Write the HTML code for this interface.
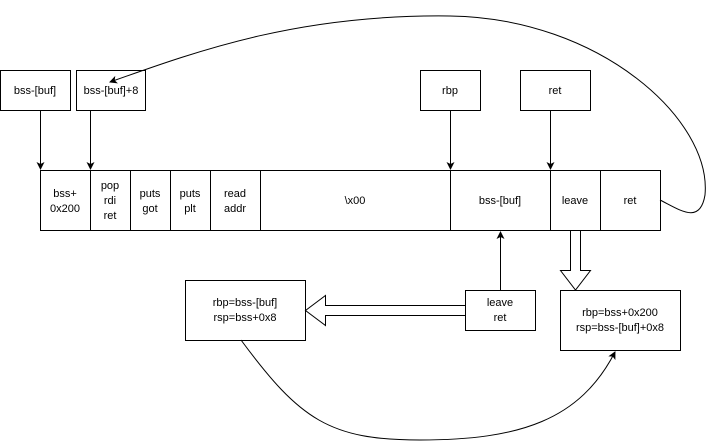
<!DOCTYPE html>
<html><head><style>body{margin:0;background:#fff}</style></head><body>
<svg width="710" height="441" xmlns="http://www.w3.org/2000/svg" font-family="Liberation Sans, sans-serif" font-size="11">
<defs><marker id="a" markerWidth="8" markerHeight="8" refX="7" refY="4" orient="auto" markerUnits="userSpaceOnUse"><path d="M0,0 L8,4 L0,8 L2,4z" fill="#000"/></marker></defs>
<g fill="#fff" stroke="#000" stroke-width="1">
<rect x="0.5" y="70.5" width="70" height="40"/>
<rect x="76.5" y="70.5" width="69" height="40"/>
<rect x="420.5" y="70.5" width="60" height="40"/>
<rect x="520.5" y="70.5" width="70" height="40"/>
<rect x="40.5" y="170.5" width="620" height="60"/>
<path d="M90.5,170v60M130.5,170v60M170.5,170v60M210.5,170v60M260.5,170v60M450.5,170v60M550.5,170v60M600.5,170v60" fill="none"/>
<rect x="185.5" y="280.5" width="120" height="60"/>
<rect x="465.5" y="290.5" width="70" height="40"/>
<rect x="560.5" y="290.5" width="120" height="60"/>
<path d="M465,305.5H325.5V295.5L305.5,310.5L325.5,325.5V315.5H465"/>
<path d="M570.5,231V270.5H560.5L575.5,290L590.5,270.5H580.5V231"/>
</g>
<g stroke="#000" fill="none" marker-end="url(#a)">
<path d="M40.5,111V169"/><path d="M90.5,111V169"/><path d="M450.5,111V169"/><path d="M550.5,111V169"/>
<path d="M500.5,290V232"/>
<path d="M241,340C300,420 330,440 420,440C520,440 580,420 615,352"/>
<path d="M660,200C680,210 700,225 705,195C712,120 600,18 450,16C300,14 200,50 110,82"/>
</g>
<g text-anchor="middle" fill="#000">
<text x="35" y="94">bss-[buf]</text><text x="111" y="94">bss-[buf]+8</text>
<text x="450" y="94">rbp</text><text x="555" y="94">ret</text>
<text x="65" y="197">bss+</text><text x="65" y="212">0x200</text>
<text x="110" y="189">pop</text><text x="110" y="204">rdi</text><text x="110" y="219">ret</text>
<text x="150" y="197">puts</text><text x="150" y="212">got</text>
<text x="190" y="197">puts</text><text x="190" y="212">plt</text>
<text x="235" y="197">read</text><text x="235" y="212">addr</text>
<text x="355" y="204">\x00</text><text x="500" y="204">bss-[buf]</text>
<text x="575" y="204">leave</text><text x="630" y="204">ret</text>
<text x="245" y="306">rbp=bss-[buf]</text><text x="245" y="321">rsp=bss+0x8</text>
<text x="500" y="306">leave</text><text x="500" y="321">ret</text>
<text x="620" y="316">rbp=bss+0x200</text><text x="620" y="331">rsp=bss-[buf]+0x8</text>
</g>
</svg>
</body></html>
